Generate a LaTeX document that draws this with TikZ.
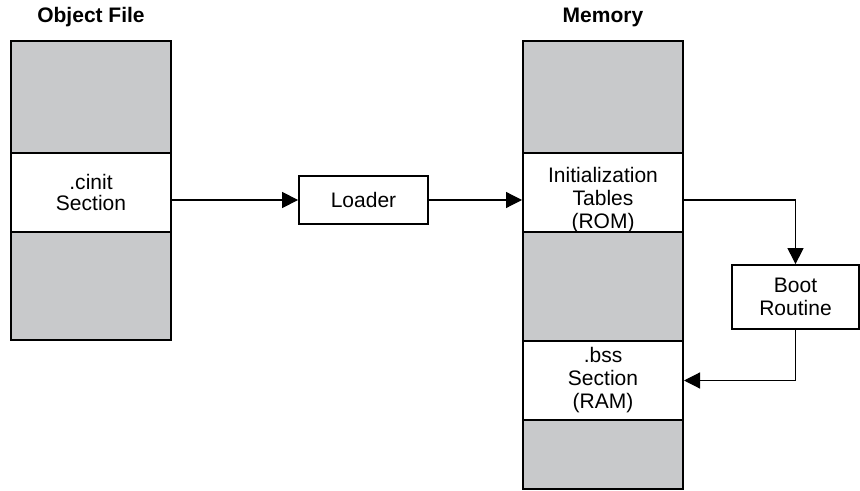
\documentclass[tikz,border=0pt]{standalone}
\usepackage{fontspec}
\setmainfont{Liberation Sans}
\usetikzlibrary{arrows.meta}
\definecolor{secgray}{RGB}{200,201,203}

\begin{document}
\begin{tikzpicture}[x=0.5pt, y=-0.5pt, every node/.style={font=\fontsize{10.5}{11.5}\selectfont},
  seg/.style={draw, line width=1pt, minimum width=80pt, inner sep=0pt, align=center},
  graysec/.style={seg, fill=secgray},
  seglabel/.style={align=center, yshift=-4pt},
  box/.style={draw, line width=0.9pt, align=center, inner sep=0pt},
  arr/.style={-{Triangle[length=8pt, width=8pt]}, line width=0.6pt}]
\useasboundingbox (0,0) rectangle (860,491);

% Titles
\node[font=\bfseries\fontsize{10.5}{12}\selectfont] (objtitle) at (91,17) {Object File};
\node[font=\bfseries\fontsize{10.5}{12}\selectfont] (memtitle) at (603,17) {Memory};

% Object file
\node[graysec, minimum height=56pt] (objtop) at (91,97) {};
\node[seg, minimum height=39.5pt] (cinit) at (91,192.5) {\raisebox{-1pt}{.cinit}\\Section};
\node[graysec, minimum height=54pt] (objbot) at (91,286) {};

% Memory
\node[graysec, minimum height=56pt] (memtop) at (603,97) {};
\node[seg, minimum height=39.5pt, label={[seglabel]center:{Initialization\\Tables\\(ROM)}}] (inittab) at (603,192.5) {};
\node[graysec, minimum height=54.5pt] (memmid) at (603,286.5) {};
\node[seg, minimum height=39.5pt] (bss) at (603,380.5) {.bss\\Section\\(RAM)};
\node[graysec, minimum height=34.5pt] (membot) at (603,454.5) {};

% Boxes
\node[box, minimum width=64.5pt, minimum height=24pt] (loader) at (363.5,200) {Loader};
\node[box, minimum width=63.5pt, minimum height=32pt] (boot) at (795.5,297) {Boot\\Routine};

% Arrows
\draw[arr] (cinit.east |- loader.west) -- (loader.west);
\draw[arr] (loader.east) -- (loader.east -| inittab.west);
\draw[arr] (inittab.east |- loader.east) -| (boot.north);
\draw[arr] (boot.south) |- (bss.east);
\end{tikzpicture}
\end{document}
